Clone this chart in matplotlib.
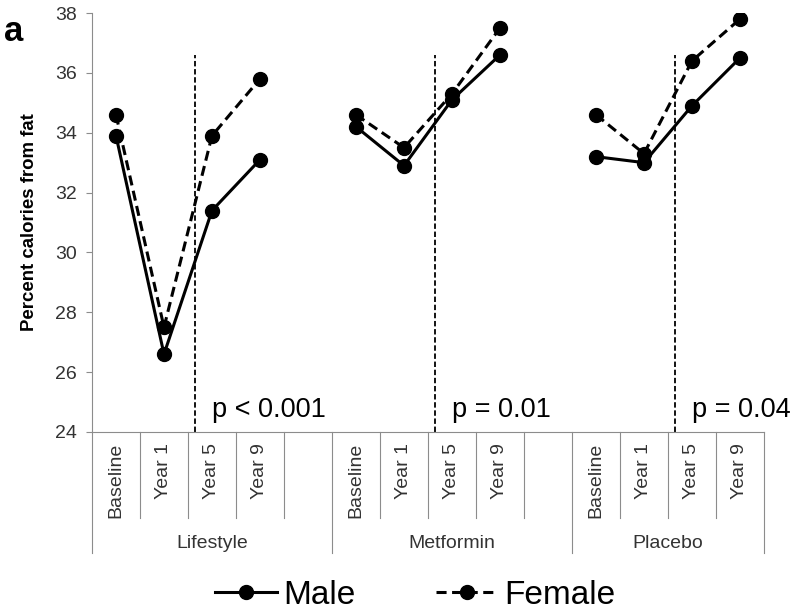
import matplotlib
matplotlib.use('Agg')
import matplotlib.pyplot as plt
import matplotlib.transforms as mtransforms
import numpy as np

plt.rcParams['font.family'] = ['Liberation Sans', 'DejaVu Sans']

groups = ['Lifestyle', 'Metformin', 'Placebo']
visits = ['Baseline', 'Year 1', 'Year 5', 'Year 9']

male_lifestyle = [33.9, 26.6, 31.4, 33.1]
male_metformin = [34.2, 32.9, 35.1, 36.6]
male_placebo = [33.2, 33.0, 34.9, 36.5]

female_lifestyle = [34.6, 27.5, 33.9, 35.8]
female_metformin = [34.6, 33.5, 35.3, 37.5]
female_placebo = [34.6, 33.3, 36.4, 37.8]

p_labels = ['p < 0.001', 'p = 0.01', 'p = 0.04']

male = [male_lifestyle, male_metformin, male_placebo]
female = [female_lifestyle, female_metformin, female_placebo]

# each group gets 5 slots (4 visits + blank), last group has no blank
slot = 5
nslots = slot * len(groups) - 1

x, ym, yf = [], [], []
for g in range(len(groups)):
    x += [g * slot + i + 0.5 for i in range(len(visits))] + [np.nan]
    ym += male[g] + [np.nan]
    yf += female[g] + [np.nan]

fig = plt.figure(figsize=(8, 6.13), dpi=100)
ax = fig.add_axes([92 / 800, 1 - 432 / 613, 672 / 800, 419 / 613])

grey = '#8c8c8c'
txt = '#333333'

lm, = ax.plot(x, ym, '-o', color='black', lw=2.2, ms=10, label='Male')
lf, = ax.plot(x, yf, '--o', color='black', lw=2.2, ms=10, dashes=(3.3, 1.8),
              label='Female')

ax.set_xlim(0, nslots)
ax.set_ylim(24, 38)
ax.set_yticks(range(24, 39, 2))
ax.set_xticks([])
ax.tick_params(axis='y', direction='out', length=4, width=0.8, color=grey,
               labelsize=14, labelcolor=txt, pad=7)
for s in ['top', 'right']:
    ax.spines[s].set_visible(False)
for s in ['left', 'bottom']:
    ax.spines[s].set_color(grey)
    ax.spines[s].set_linewidth(0.8)

# dashed separators and p values
for g in range(len(groups)):
    xv = g * slot + 2.15
    ax.plot([xv, xv], [24, 36.6], color='black', lw=1.3, dashes=(3, 1.5))
    ax.text(g * slot + 2.5, 24.5, p_labels[g], fontsize=19.5, color='black',
            ha='left', va='baseline')

# category axis labels
blend = mtransforms.blended_transform_factory(ax.transData, ax.transAxes)
for g in range(len(groups)):
    for i, v in enumerate(visits):
        ax.text(g * slot + i + 0.5, -0.026, v, rotation=90, ha='center',
                va='top', fontsize=14, color=txt, transform=blend)
    end = min(g * slot + slot, nslots)
    ax.text((g * slot + end) / 2, -0.265, groups[g], ha='center', va='center',
            fontsize=14, color=txt, transform=blend)

for b in range(1, nslots):
    depth = 0.289 if b % slot == 0 else 0.205
    ax.plot([b, b], [0, -depth], color=grey, lw=0.8, transform=blend,
            clip_on=False)
for b in [0, nslots]:
    ax.plot([b, b], [0, -0.289], color=grey, lw=0.8, transform=blend,
            clip_on=False)

fig.text(30 / 800, 1 - 222 / 613, 'Percent calories from fat', rotation=90,
         ha='center', va='center', fontsize=13.4, weight='bold')
fig.text(0.005, 0.975, 'a', fontsize=25, weight='bold', va='top', ha='left')

fig.legend([lm, lf], ['Male', 'Female'], loc='center',
           bbox_to_anchor=(0.519, 0.029), ncol=2, frameon=False, fontsize=24,
           handlelength=1.85, handletextpad=0.2, columnspacing=2.4,
           borderpad=0, borderaxespad=0)

fig.savefig('out.png', dpi=100)
